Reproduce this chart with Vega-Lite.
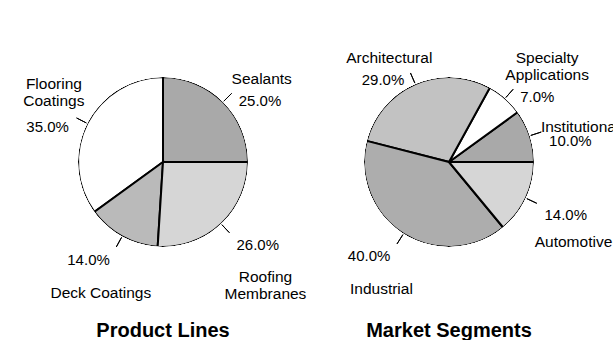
{
  "$schema": "https://vega.github.io/schema/vega-lite/v6.json",
  "padding": {"left": 23, "top": 12, "right": 5, "bottom": 0},
  "background": "#ffffff",
  "config": {
    "view": {"stroke": null},
    "font": "Liberation Sans",
    "text": {"font": "Liberation Sans", "fontSize": 15, "lineHeight": 17, "lineBreak": "\n", "color": "#000000"},
    "title": {"font": "Liberation Sans", "fontSize": 20, "fontWeight": "bold", "color": "#000000", "baseline": "top"}
  },
  "datasets": {
    "product": [
      {"name": "Sealants", "value": 0.25},
      {"name": "Flooring\nCoatings", "value": 0.35},
      {"name": "Deck Coatings", "value": 0.14},
      {"name": "Roofing\nMembranes", "value": 0.26}
    ],
    "market": [
      {"name": "Institutional", "value": 0.10},
      {"name": "Specialty\nApplications", "value": 0.07},
      {"name": "Architectural", "value": 0.29},
      {"name": "Industrial", "value": 0.40},
      {"name": "Automotive", "value": 0.14}
    ]
  },
  "bounds": "flush",
  "spacing": 26,
  "resolve": {"scale": {"fill": "independent", "theta": "independent"}},
  "hconcat": [
    {
      "width": 260,
      "height": 300,
      "data": {"name": "product"},
      "transform": [{"window": [{"op": "row_number", "as": "rank"}]}],
      "title": {"text": "Product Lines", "orient": "bottom", "offset": 9},
      "layer": [
        {
          "mark": {"type": "arc", "outerRadius": 85, "stroke": "#000000", "strokeWidth": 2},
          "encoding": {
            "theta": {"field": "value", "type": "quantitative", "stack": true, "scale": {"domain": [0, 1], "range": [1.5707963, -4.712389]}},
            "order": {"field": "rank", "type": "quantitative"},
            "fill": {"field": "name", "type": "nominal", "legend": null,
              "scale": {"domain": ["Sealants", "Flooring\nCoatings", "Deck Coatings", "Roofing\nMembranes"], "range": ["#a9a9a9", "#ffffff", "#bababa", "#d6d6d6"]}}
          }
        },
        {
          "mark": {"type": "arc", "radius": 88, "radius2": 85, "theta": 0, "theta2": 6.2832, "fill": "#ffffff", "strokeWidth": 0},
          "encoding": {}
        },
        {
          "mark": {"type": "arc", "radius": 97, "radius2": 86, "padAngle": 3, "fill": "transparent", "stroke": "#000000", "strokeWidth": 1},
          "encoding": {
            "theta": {"field": "value", "type": "quantitative", "stack": true},
            "order": {"field": "rank", "type": "quantitative"}
          }
        },
        {
          "mark": {"type": "text", "radius": 100, "align": "left", "baseline": "middle", "dx": 5, "dy": 10},
          "encoding": {
            "theta": {"field": "value", "type": "quantitative", "stack": true},
            "order": {"field": "rank", "type": "quantitative"},
            "text": {"condition": {"test": "datum.value_start + datum.value_end < 0.5 || datum.value_start + datum.value_end > 1.5", "field": "value", "type": "quantitative", "format": ".1%"}, "value": ""}
          }
        },
        {
          "mark": {"type": "text", "radius": 100, "align": "right", "baseline": "middle", "dx": -5, "dy": 10},
          "encoding": {
            "theta": {"field": "value", "type": "quantitative", "stack": true},
            "order": {"field": "rank", "type": "quantitative"},
            "text": {"condition": {"test": "datum.value_start + datum.value_end >= 0.5 && datum.value_start + datum.value_end <= 1.5", "field": "value", "type": "quantitative", "format": ".1%"}, "value": ""}
          }
        },
        {
          "mark": {"type": "text", "radius": 100, "align": "center", "baseline": "bottom", "dx": 28, "dy": -4, "fontSize": 15.5},
          "encoding": {
            "theta": {"field": "value", "type": "quantitative", "stack": true},
            "order": {"field": "rank", "type": "quantitative"},
            "text": {"condition": {"test": "datum.value_start + datum.value_end < 0.5 && indexof(datum.name, '\\n') < 0", "field": "name", "type": "nominal"}, "value": ""}
          }
        },
        {
          "mark": {"type": "text", "radius": 100, "align": "center", "baseline": "bottom", "dx": 32, "dy": -21, "fontSize": 15.5},
          "encoding": {
            "theta": {"field": "value", "type": "quantitative", "stack": true},
            "order": {"field": "rank", "type": "quantitative"},
            "text": {"condition": {"test": "datum.value_start + datum.value_end < 0.5 && indexof(datum.name, '\\n') >= 0", "field": "name", "type": "nominal"}, "value": ""}
          }
        },
        {
          "mark": {"type": "text", "radius": 100, "align": "center", "baseline": "bottom", "dx": -20, "dy": -4, "fontSize": 15.5},
          "encoding": {
            "theta": {"field": "value", "type": "quantitative", "stack": true},
            "order": {"field": "rank", "type": "quantitative"},
            "text": {"condition": {"test": "datum.value_start + datum.value_end >= 0.5 && datum.value_start + datum.value_end < 1 && indexof(datum.name, '\\n') < 0", "field": "name", "type": "nominal"}, "value": ""}
          }
        },
        {
          "mark": {"type": "text", "radius": 100, "align": "center", "baseline": "bottom", "dx": -20, "dy": -25, "fontSize": 15.5},
          "encoding": {
            "theta": {"field": "value", "type": "quantitative", "stack": true},
            "order": {"field": "rank", "type": "quantitative"},
            "text": {"condition": {"test": "datum.value_start + datum.value_end >= 0.5 && datum.value_start + datum.value_end < 1 && indexof(datum.name, '\\n') >= 0", "field": "name", "type": "nominal"}, "value": ""}
          }
        },
        {
          "mark": {"type": "text", "radius": 100, "align": "center", "baseline": "top", "dx": -14, "dy": 36, "fontSize": 15.5},
          "encoding": {
            "theta": {"field": "value", "type": "quantitative", "stack": true},
            "order": {"field": "rank", "type": "quantitative"},
            "text": {"condition": {"test": "datum.value_start + datum.value_end >= 1 && datum.value_start + datum.value_end <= 1.5", "field": "name", "type": "nominal"}, "value": ""}
          }
        },
        {
          "mark": {"type": "text", "radius": 100, "align": "center", "baseline": "top", "dx": 34, "dy": 35, "fontSize": 15.5},
          "encoding": {
            "theta": {"field": "value", "type": "quantitative", "stack": true},
            "order": {"field": "rank", "type": "quantitative"},
            "text": {"condition": {"test": "datum.value_start + datum.value_end > 1.5", "field": "name", "type": "nominal"}, "value": ""}
          }
        }
      ]
    },
    {
      "width": 260,
      "height": 300,
      "data": {"name": "market"},
      "transform": [{"window": [{"op": "row_number", "as": "rank"}]}],
      "title": {"text": "Market Segments", "orient": "bottom", "offset": 9},
      "layer": [
        {
          "mark": {"type": "arc", "outerRadius": 85, "stroke": "#000000", "strokeWidth": 2},
          "encoding": {
            "theta": {"field": "value", "type": "quantitative", "stack": true, "scale": {"domain": [0, 1], "range": [1.5707963, -4.712389]}},
            "order": {"field": "rank", "type": "quantitative"},
            "fill": {"field": "name", "type": "nominal", "legend": null,
              "scale": {"domain": ["Institutional", "Specialty\nApplications", "Architectural", "Industrial", "Automotive"], "range": ["#a9a9a9", "#ffffff", "#c2c2c2", "#adadad", "#d6d6d6"]}}
          }
        },
        {
          "mark": {"type": "arc", "radius": 88, "radius2": 85, "theta": 0, "theta2": 6.2832, "fill": "#ffffff", "strokeWidth": 0},
          "encoding": {}
        },
        {
          "mark": {"type": "arc", "radius": 97, "radius2": 86, "padAngle": 3, "fill": "transparent", "stroke": "#000000", "strokeWidth": 1},
          "encoding": {
            "theta": {"field": "value", "type": "quantitative", "stack": true},
            "order": {"field": "rank", "type": "quantitative"}
          }
        },
        {
          "mark": {"type": "text", "radius": 100, "align": "left", "baseline": "middle", "dx": 5, "dy": 10},
          "encoding": {
            "theta": {"field": "value", "type": "quantitative", "stack": true},
            "order": {"field": "rank", "type": "quantitative"},
            "text": {"condition": {"test": "datum.value_start + datum.value_end < 0.5 || datum.value_start + datum.value_end > 1.5", "field": "value", "type": "quantitative", "format": ".1%"}, "value": ""}
          }
        },
        {
          "mark": {"type": "text", "radius": 100, "align": "right", "baseline": "middle", "dx": -5, "dy": 10},
          "encoding": {
            "theta": {"field": "value", "type": "quantitative", "stack": true},
            "order": {"field": "rank", "type": "quantitative"},
            "text": {"condition": {"test": "datum.value_start + datum.value_end >= 0.5 && datum.value_start + datum.value_end <= 1.5", "field": "value", "type": "quantitative", "format": ".1%"}, "value": ""}
          }
        },
        {
          "mark": {"type": "text", "radius": 100, "align": "center", "baseline": "bottom", "dx": 36, "dy": 4, "fontSize": 15.5},
          "encoding": {
            "theta": {"field": "value", "type": "quantitative", "stack": true},
            "order": {"field": "rank", "type": "quantitative"},
            "text": {"condition": {"test": "datum.value_start + datum.value_end < 0.5 && indexof(datum.name, '\\n') < 0", "field": "name", "type": "nominal"}, "value": ""}
          }
        },
        {
          "mark": {"type": "text", "radius": 100, "align": "center", "baseline": "bottom", "dx": 32, "dy": -21, "fontSize": 15.5},
          "encoding": {
            "theta": {"field": "value", "type": "quantitative", "stack": true},
            "order": {"field": "rank", "type": "quantitative"},
            "text": {"condition": {"test": "datum.value_start + datum.value_end < 0.5 && indexof(datum.name, '\\n') >= 0", "field": "name", "type": "nominal"}, "value": ""}
          }
        },
        {
          "mark": {"type": "text", "radius": 100, "align": "center", "baseline": "bottom", "dx": -20, "dy": -4, "fontSize": 15.5},
          "encoding": {
            "theta": {"field": "value", "type": "quantitative", "stack": true},
            "order": {"field": "rank", "type": "quantitative"},
            "text": {"condition": {"test": "datum.value_start + datum.value_end >= 0.5 && datum.value_start + datum.value_end < 1 && indexof(datum.name, '\\n') < 0", "field": "name", "type": "nominal"}, "value": ""}
          }
        },
        {
          "mark": {"type": "text", "radius": 100, "align": "center", "baseline": "bottom", "dx": -20, "dy": -25, "fontSize": 15.5},
          "encoding": {
            "theta": {"field": "value", "type": "quantitative", "stack": true},
            "order": {"field": "rank", "type": "quantitative"},
            "text": {"condition": {"test": "datum.value_start + datum.value_end >= 0.5 && datum.value_start + datum.value_end < 1 && indexof(datum.name, '\\n') >= 0", "field": "name", "type": "nominal"}, "value": ""}
          }
        },
        {
          "mark": {"type": "text", "radius": 100, "align": "center", "baseline": "top", "dx": -14, "dy": 36, "fontSize": 15.5},
          "encoding": {
            "theta": {"field": "value", "type": "quantitative", "stack": true},
            "order": {"field": "rank", "type": "quantitative"},
            "text": {"condition": {"test": "datum.value_start + datum.value_end >= 1 && datum.value_start + datum.value_end <= 1.5", "field": "name", "type": "nominal"}, "value": ""}
          }
        },
        {
          "mark": {"type": "text", "radius": 100, "align": "center", "baseline": "top", "dx": 34, "dy": 30, "fontSize": 15.5},
          "encoding": {
            "theta": {"field": "value", "type": "quantitative", "stack": true},
            "order": {"field": "rank", "type": "quantitative"},
            "text": {"condition": {"test": "datum.value_start + datum.value_end > 1.5", "field": "name", "type": "nominal"}, "value": ""}
          }
        }
      ]
    }
  ]
}
